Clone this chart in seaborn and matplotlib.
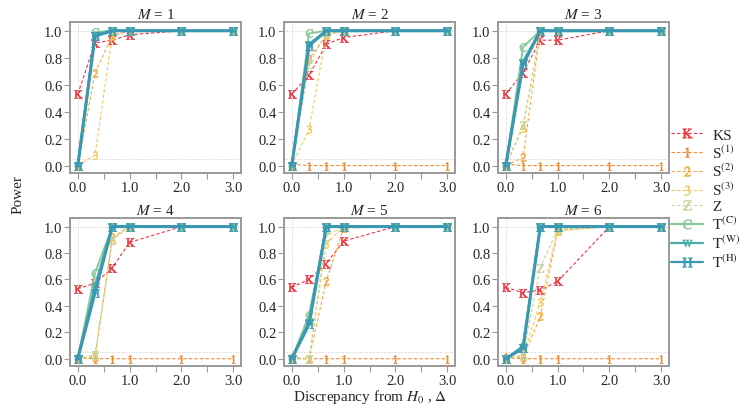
import matplotlib
matplotlib.use("Agg")
import matplotlib.pyplot as plt
import numpy as np
import pandas as pd
import seaborn as sns

# discrepancy values on the x axis
delta = [0.0, 1 / 3, 2 / 3, 1.0, 2.0, 3.0]
panels = [1, 2, 3, 4, 5, 6]

tests = ["KS", "S1", "S2", "S3", "Z", "TC", "TW", "TH"]
labels = ["KS", r"S$^{(1)}$", r"S$^{(2)}$", r"S$^{(3)}$", "Z",
          r"T$^{(\mathrm{C})}$", r"T$^{(\mathrm{W})}$", r"T$^{(\mathrm{H})}$"]
letters = ["K", "1", "2", "3", "Z", "C", "W", "H"]

nan = np.nan
# power values, one list per test, one row per panel (M = 1..6)
KS = [[0.53, 0.91, 0.93, 0.97, 1.0, 1.0],
      [0.53, 0.67, 0.90, 0.95, 1.0, 1.0],
      [0.53, 0.69, 0.93, 0.93, 1.0, 1.0],
      [0.53, 0.57, 0.69, 0.88, 1.0, 1.0],
      [0.54, 0.60, 0.72, 0.89, 1.0, 1.0],
      [0.54, 0.50, 0.52, 0.585, 1.0, 1.0]]
S1 = [[nan, nan, nan, nan, nan, nan],
      [0.01, 0.0, 0.0, 0.0, 0.0, 0.0],
      [0.01, 0.0, 0.0, 0.0, 0.0, 0.0],
      [0.01, 0.0, 0.0, 0.0, 0.0, 0.0],
      [0.01, 0.0, 0.0, 0.0, 0.0, 0.0],
      [0.01, 0.0, 0.0, 0.0, 0.0, 0.0]]
S2 = [[0.0, 0.69, 0.96, 1.0, 1.0, 1.0],
      [0.0, 0.79, 0.97, 1.0, 1.0, 1.0],
      [0.0, 0.06, 1.0, 1.0, 1.0, 1.0],
      [0.0, 0.01, 0.92, 1.0, 1.0, 1.0],
      [0.0, 0.0, 0.59, 0.99, 1.0, 1.0],
      [0.0, 0.01, 0.32, 0.97, 1.0, 1.0]]
S3 = [[0.0, 0.08, 0.97, 1.0, 1.0, 1.0],
      [0.0, 0.27, 0.97, 1.0, 1.0, 1.0],
      [0.0, 0.28, 1.0, 1.0, 1.0, 1.0],
      [0.0, 0.02, 0.90, 1.0, 1.0, 1.0],
      [0.0, 0.0, 0.87, 1.0, 1.0, 1.0],
      [0.0, 0.02, 0.43, 0.97, 1.0, 1.0]]
Z = [[0.0, 0.97, 1.0, 1.0, 1.0, 1.0],
     [0.0, 0.75, 0.98, 1.0, 1.0, 1.0],
     [0.0, 0.30, 1.0, 1.0, 1.0, 1.0],
     [0.0, 0.03, 0.90, 1.0, 1.0, 1.0],
     [0.0, 0.0, 0.93, 1.0, 1.0, 1.0],
     [0.0, 0.03, 0.69, 0.98, 1.0, 1.0]]
TC = [[0.0, 0.99, 1.0, 1.0, 1.0, 1.0],
      [0.0, 0.98, 1.0, 1.0, 1.0, 1.0],
      [0.0, 0.88, 1.0, 1.0, 1.0, 1.0],
      [0.0, 0.65, 1.0, 1.0, 1.0, 1.0],
      [0.0, 0.33, 1.0, 1.0, 1.0, 1.0],
      [0.0, 0.10, 1.0, 1.0, 1.0, 1.0]]
TW = [[0.0, 0.97, 1.0, 1.0, 1.0, 1.0],
      [0.0, 0.90, 1.0, 1.0, 1.0, 1.0],
      [0.0, 0.77, 1.0, 1.0, 1.0, 1.0],
      [0.0, 0.55, 1.0, 1.0, 1.0, 1.0],
      [0.0, 0.28, 1.0, 1.0, 1.0, 1.0],
      [0.0, 0.09, 1.0, 1.0, 1.0, 1.0]]
TH = [[0.0, 0.96, 1.0, 1.0, 1.0, 1.0],
      [0.0, 0.89, 1.0, 1.0, 1.0, 1.0],
      [0.0, 0.75, 1.0, 1.0, 1.0, 1.0],
      [0.0, 0.50, 1.0, 1.0, 1.0, 1.0],
      [0.0, 0.26, 1.0, 1.0, 1.0, 1.0],
      [0.0, 0.08, 1.0, 1.0, 1.0, 1.0]]
power = {"KS": KS, "S1": S1, "S2": S2, "S3": S3, "Z": Z, "TC": TC, "TW": TW, "TH": TH}

colors = ["#EF3340", "#F2892E", "#F4A93C", "#F5C85C", "#C9D49C", "#8DC89B", "#47B0A3", "#3A98B5"]
styles = [(0, (3, 2))] * 5 + ["-"] * 3
widths = [0.8, 0.8, 0.8, 0.8, 0.8, 1.4, 1.8, 2.2]

rows = []
for t in tests:
    for m, vals in zip(panels, power[t]):
        for d, v in zip(delta, vals):
            rows.append([t, m, d, v])
df = pd.DataFrame(rows, columns=["test", "M", "delta", "power"])

sns.set_style("white")
plt.rcParams["font.family"] = ["Liberation Serif", "DejaVu Serif"]
plt.rcParams["mathtext.fontset"] = "stix"
plt.rcParams["font.size"] = 10.5

fig = plt.figure(figsize=(7.47, 4.10), dpi=100)
W, H = 747, 410
lefts = [70, 284, 498]
tops = [(23, 174), (219, 367)]

for i, m in enumerate(panels):
    l = lefts[i % 3]
    t, b = tops[i // 3]
    ax = fig.add_axes([l / W, 1 - b / H, 171 / W, (b - t) / H])
    for y in (0.05, 1.0):
        ax.axhline(y, color="#cccccc", lw=0.7, ls=(0, (1, 1.5)), zorder=0)
    ax.axvline(0, color="#cccccc", lw=0.7, ls=(0, (1, 1.5)), zorder=0)
    for j, tname in enumerate(tests):
        sub = df[(df.test == tname) & (df.M == m)].dropna()
        if sub.empty:
            continue
        sns.lineplot(data=sub, x="delta", y="power", ax=ax, color=colors[j],
                     lw=widths[j], ls=styles[j], marker=r"$\mathrm{%s}$" % letters[j],
                     markersize=6, markeredgewidth=0.4, markeredgecolor=colors[j],
                     zorder=2 + j, legend=False)
    ax.set_xlim(-0.15, 3.15)
    ax.set_ylim(-0.055, 1.065)
    ax.set_xticks([0, 0.5, 1, 1.5, 2, 2.5, 3])
    ax.set_xticklabels(["0.0", "", "1.0", "", "2.0", "", "3.0"])
    ax.set_yticks([0, 0.2, 0.4, 0.6, 0.8, 1.0])
    ax.set_yticklabels(["0.0", "0.2", "0.4", "0.6", "0.8", "1.0"])
    ax.set_xlabel("")
    ax.set_ylabel("")
    ax.set_title(r"$M$ = %d" % m, fontsize=11, pad=3)
    for s in ax.spines.values():
        s.set_color("#999999")
        s.set_linewidth(1.4)
    ax.tick_params(axis="both", direction="out", length=4, width=0.8, color="#999999",
                   pad=1.5, labelsize=10.5, bottom=True, left=True)

handles = []
for j in range(len(tests)):
    h, = plt.plot([], [], color=colors[j], lw=widths[j] if j < 5 else 1.6, ls=styles[j],
                  marker=r"$\mathrm{%s}$" % letters[j], markersize=7,
                  markeredgewidth=0.4, markeredgecolor=colors[j])
    handles.append(h)
fig.legend(handles, labels, loc="upper left", bbox_to_anchor=(668 / W, 1 - 126 / H),
           frameon=False, handlelength=2.1, fontsize=11, labelspacing=0.1,
           handletextpad=0.6, borderaxespad=0, borderpad=0.2)

fig.text(18 / W, 1 - 195 / H, "Power", rotation=90, ha="center", va="center", fontsize=11)
fig.text(370 / W, 1 - 397 / H, r"Discrepancy from $H_0$ , $\Delta$", ha="center",
         va="center", fontsize=11)

fig.savefig("out.png", dpi=100)
